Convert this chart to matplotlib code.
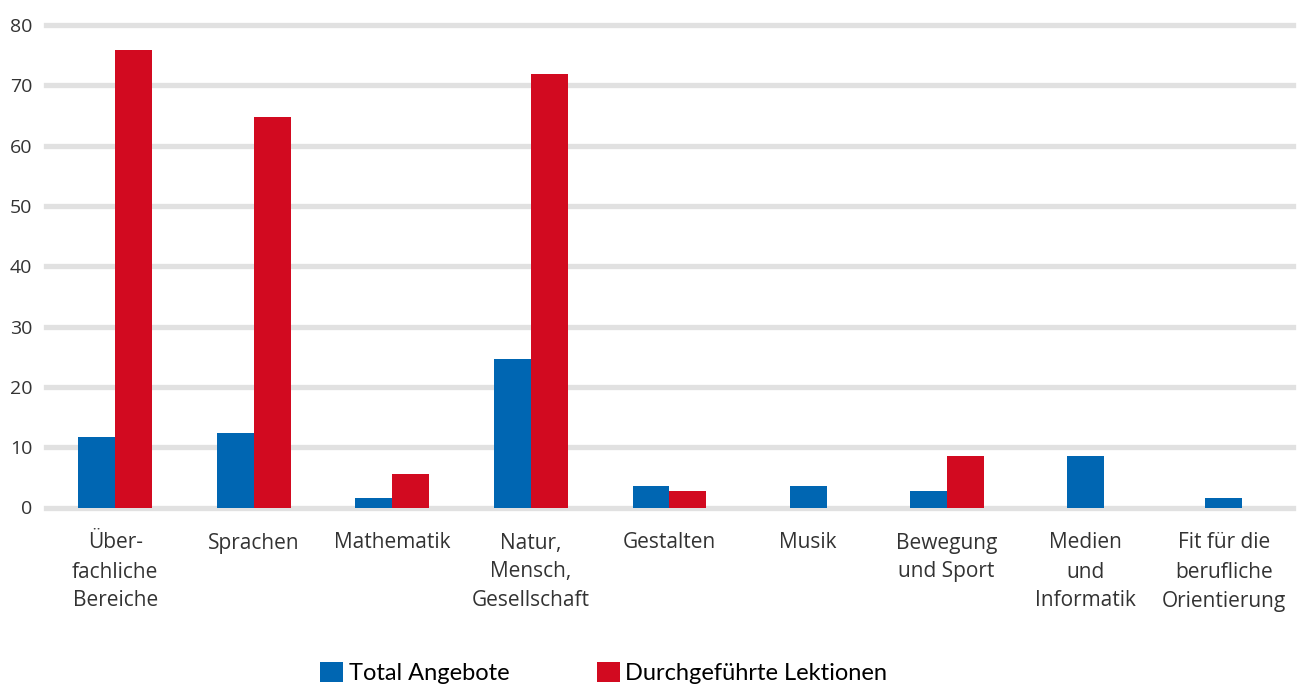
import matplotlib
matplotlib.use("Agg")
import matplotlib.pyplot as plt
from matplotlib.patches import Patch
import numpy as np

categories = ["Über-\nfachliche\nBereiche", "Sprachen", "Mathematik", "Natur,\nMensch,\nGesellschaft",
              "Gestalten", "Musik", "Bewegung\nund Sport", "Medien\nund\nInformatik",
              "Fit für die\nberufliche\nOrientierung"]
total_angebote = [11.7, 12.4, 1.6, 24.6, 3.6, 3.6, 2.7, 8.5, 1.6]
lektionen = [75.9, 64.8, 5.6, 71.9, 2.7, 0, 8.5, 0, 0]
series_names = ["Total Angebote", "Durchgeführte Lektionen"]
yticks = [0, 10, 20, 30, 40, 50, 60, 70, 80]

BLUE = "#0066b2"
RED = "#d20a20"
GRID = "#e1e1e1"
TXT = "#333333"

plt.rcParams['font.family'] = ['Open Sans', 'DejaVu Sans']

fig = plt.figure(figsize=(13.01, 6.84), dpi=100)
ax = fig.add_axes([46/1301, (684-507.5)/684, (1293-46)/1301, (507.5-25)/684])

w = 37/138.6
x = np.arange(len(categories))
for i in range(len(categories)):
    b, r = total_angebote[i], lektionen[i]
    if b > 0 and r > 0:
        ax.bar(x[i] - w/2, b, w, color=BLUE, zorder=3)
        ax.bar(x[i] + w/2, r, w, color=RED, zorder=3)
    elif b > 0:
        ax.bar(x[i], b, w, color=BLUE, zorder=3)
    elif r > 0:
        ax.bar(x[i], r, w, color=RED, zorder=3)

for yv in yticks:
    ax.axhline(yv, color=GRID, lw=3.8, zorder=1, clip_on=False)

ax.set_xlim(-0.5, len(categories) - 0.5)
ax.set_ylim(0, 80)
ax.set_yticks(yticks)
ax.set_yticklabels([str(v) for v in yticks], fontsize=14, color=TXT)
ax.set_xticks(x)
ax.set_xticklabels(categories, fontsize=15, color=TXT, linespacing=1.5, va="top")
ax.tick_params(axis="both", length=0)
ax.tick_params(axis="x", pad=18)
ax.tick_params(axis="y", pad=10)
for s in ax.spines.values():
    s.set_visible(False)

handles = [Patch(facecolor=BLUE), Patch(facecolor=RED)]
fig.legend(handles, series_names, loc="lower center", bbox_to_anchor=(0.464, -0.031), ncol=2,
           frameon=False, handlelength=0.97, handleheight=0.97,
           handletextpad=0.25, columnspacing=3.7,
           prop={'family': ['Lato', 'DejaVu Sans'], 'size': 17})

fig.savefig("out.png", dpi=100)
